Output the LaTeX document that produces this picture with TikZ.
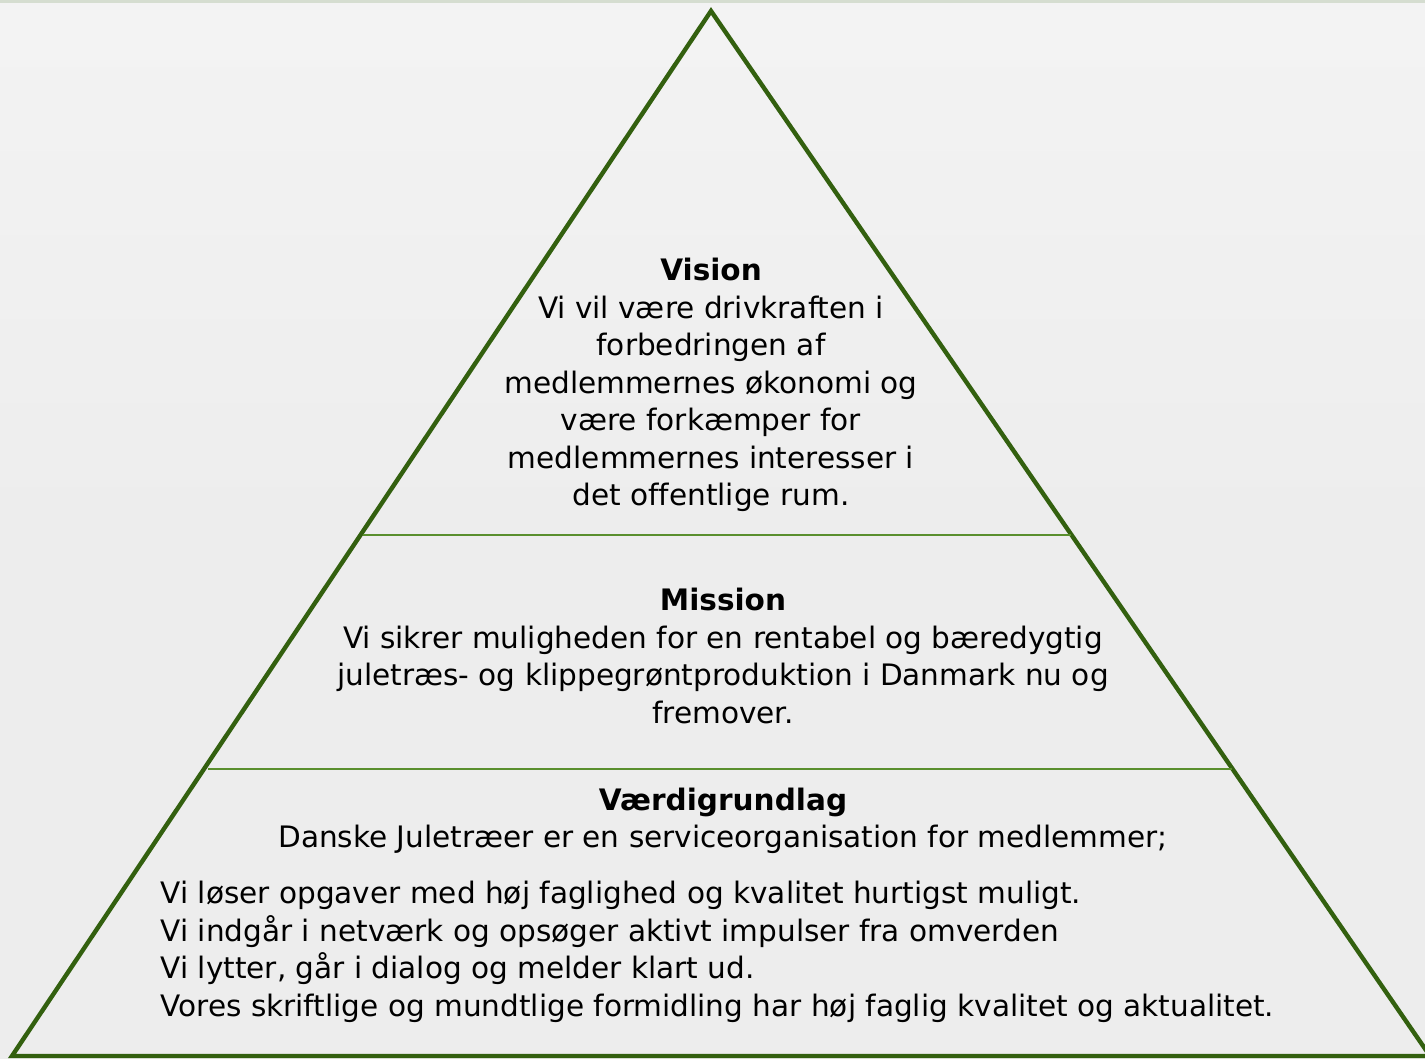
\documentclass[tikz,border=0pt]{standalone}
\usepackage{fontspec}
\setmainfont[Ligatures=NoCommon]{DejaVu Sans}
\usetikzlibrary{positioning}
\definecolor{pyrgreen}{HTML}{33600F}
\definecolor{pyrline}{HTML}{5A8F2E}
\definecolor{pyrbg}{HTML}{EDEDED}
\definecolor{pyrtop}{HTML}{D5DDD0}
\tikzset{
  pyrtext/.style={font=\fontsize{8.4}{10.67}\selectfont,inner sep=0pt,align=center}
}

\begin{document}
\begin{tikzpicture}[x=0.01cm,y=-0.01cm]
  \useasboundingbox (0,0) rectangle (1425,1058);

  % ---- Background ----------------------------------------------
  \shade[top color=white!35!pyrbg,bottom color=pyrbg,middle color=pyrbg] (0,0) rectangle (1425,1058);
  \fill[pyrtop] (0,0) rectangle (1425,3);

  % ---- Pyramid outline -----------------------------------------
  \begin{scope}
    \clip (0,0) rectangle (1425,1058);
    \draw[pyrgreen,line width=1.25pt,line join=miter]
      (12,1056) -- (711,11) -- (1430,1056) -- cycle;
  \end{scope}
  % level dividers
  \draw[pyrline,line width=0.7pt] (363,535) -- (1071,535);
  \draw[pyrline,line width=0.7pt] (208,769) -- (1232,769);

  % ---- Vision ---------------------------------------------------
  \node[pyrtext] (vision) at (711,385)
    {\textbf{Vision}\\Vi vil være drivkraften i\\forbedringen af\\medlemmernes økonomi og\\være forkæmper for\\medlemmernes interesser i\\det offentlige rum.};

  % ---- Mission --------------------------------------------------
  \node[pyrtext] (mission) at (723,656)
    {\textbf{Mission}\\Vi sikrer muligheden for en rentabel og bæredygtig\\juletræs- og klippegrøntproduktion i Danmark nu og\\fremover.};

  % ---- Værdigrundlag --------------------------------------------
  \node[pyrtext] (vaerdi) at (723,821)
    {\textbf{Værdigrundlag}\\Danske Juletræer er en serviceorganisation for medlemmer;};
  \node[pyrtext,align=left,anchor=west] (vaerdilist) at (160,952)
    {Vi løser opgaver med høj faglighed og kvalitet hurtigst muligt.\\Vi indgår i netværk og opsøger aktivt impulser fra omverden\\Vi lytter, går i dialog og melder klart ud.\\Vores skriftlige og mundtlige formidling har høj faglig kvalitet og aktualitet.};

\end{tikzpicture}
\end{document}
